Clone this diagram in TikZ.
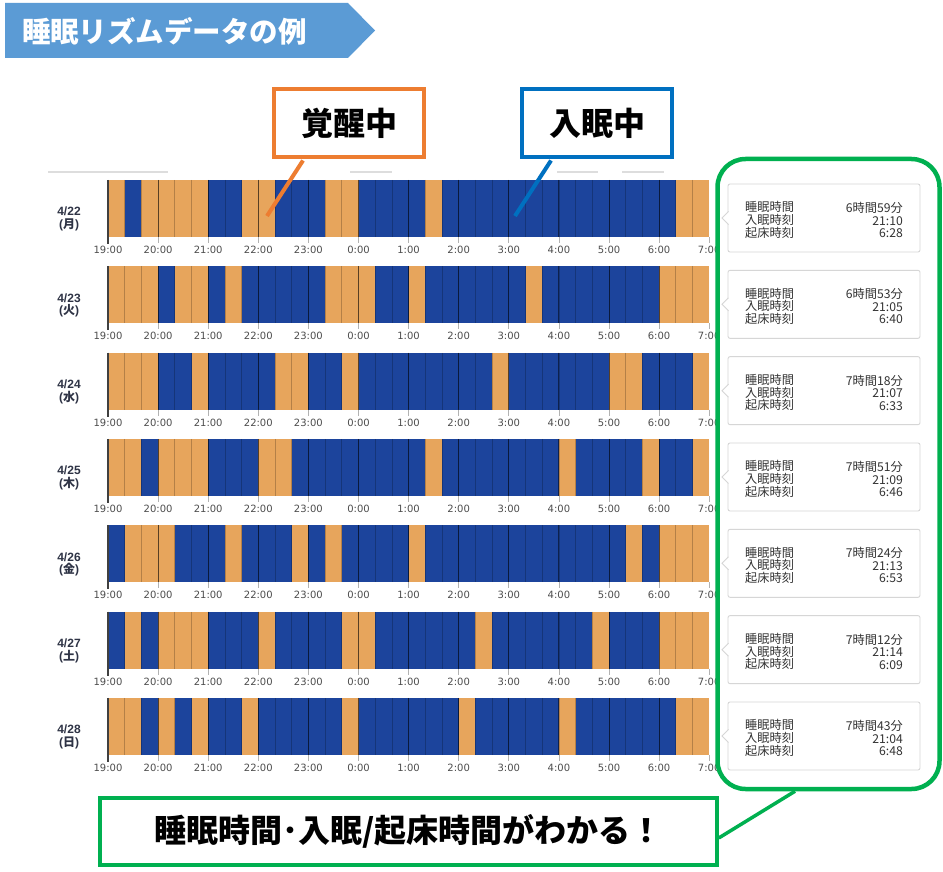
\documentclass[tikz,border=0pt]{standalone}
\usepackage{fontspec}
\setmainfont{Liberation Sans}
\newfontfamily\jp{Noto Sans CJK JP}
\newfontfamily\dv{DejaVu Sans}
\usetikzlibrary{calc}
\definecolor{slpO}{HTML}{E7A55C}
\definecolor{slpB}{HTML}{1C449C}
\definecolor{bannerblue}{HTML}{5B9BD5}
\definecolor{callO}{HTML}{ED7D31}
\definecolor{callB}{HTML}{0070C0}
\definecolor{grn}{HTML}{00B050}
\definecolor{tickgray}{HTML}{4D4D4D}
\definecolor{dategray}{HTML}{2E3345}
\definecolor{cardgray}{HTML}{D6D6D6}
\definecolor{cardtext}{HTML}{333333}
\definecolor{headgray}{HTML}{DDDDDD}
\newcommand\sleeprow[2]{%
  \foreach \c [count=\k from 0] in {#2} {
    \fill[fill=slp\c] ({108+16.7*\k},{180+86.33*#1}) rectangle ++(16.8,57);
  }}
\begin{document}
\begin{tikzpicture}[x=1pt,y=-1pt,
  slotline/.style={black, opacity=.22, line width=.8pt},
  hourline/.style={black, opacity=.5, line width=1pt},
  tickmark/.style={black!30, line width=.8pt},
  ticklab/.style={font=\dv\fontsize{10}{12}\selectfont, text=tickgray, inner sep=0pt},
  datelab/.style={font=\bfseries\fontsize{12}{12.5}\selectfont, text=dategray, align=center, inner sep=0pt},
  card/.style={draw=cardgray, line width=.9pt, rounded corners=2pt, fill=white, minimum width=192pt, minimum height=68pt, inner sep=0pt},
  cardtxt/.style={font=\jp\fontsize{12.2}{12.6}\selectfont, text=cardtext, inner sep=0pt},
  callbox/.style={line width=3.5pt, fill=white, minimum width=150pt, minimum height=68pt, inner sep=0pt, font=\jp\bfseries\fontsize{32}{36}\selectfont},
  callline/.style={line width=4pt},
  grnline/.style={draw=grn, line width=3.5pt}
]
\useasboundingbox (0,0) rectangle (943,872);
\fill[white] (0,0) rectangle (943,872);

% title banner
\fill[bannerblue] (5,3) -- (348,3) -- (375,30.5) -- (348,58) -- (5,58) -- cycle;
\node[text=white, inner sep=0pt, font=\jp\bfseries\fontsize{28.5}{32}\selectfont] (title) at (164.5,31) {睡眠リズムデータの例};

% faint header lines
\draw[headgray, line width=1.5pt] (48,172) -- (168,172) (350,172) -- (392,172) (557,172) -- (598,172) (622,172) -- (664,172);

% sleep bars
\sleeprow{0}{O,B,O,O,O,O,B,B,O,O,B,B,B,O,O,B,B,B,B,O,B,B,B,B,B,B,B,B,B,B,B,B,B,B,O,O}
\sleeprow{1}{O,O,O,B,O,O,B,O,B,B,B,B,B,O,O,O,B,B,O,B,B,B,B,B,B,O,B,B,B,B,B,B,B,O,O,O}
\sleeprow{2}{O,O,O,B,B,O,B,B,B,B,O,O,B,B,O,B,B,B,B,B,B,B,B,O,B,B,B,B,B,B,O,O,B,B,B,O}
\sleeprow{3}{O,O,B,O,O,O,B,B,B,O,O,B,B,B,B,B,B,B,B,O,B,B,B,B,B,B,B,O,B,B,B,B,O,B,B,O}
\sleeprow{4}{B,O,O,O,B,B,B,O,B,B,B,O,B,O,B,B,B,B,O,B,B,B,B,B,B,B,B,B,B,B,B,O,B,O,O,O}
\sleeprow{5}{B,O,B,O,O,O,B,B,B,O,B,B,B,B,O,O,B,B,B,B,B,B,O,B,B,B,B,B,B,O,B,B,B,O,O,O}
\sleeprow{6}{O,O,B,O,B,O,B,B,O,B,B,B,B,B,O,B,B,B,B,B,B,O,B,B,B,B,B,O,B,B,B,B,B,B,O,O}

% grid lines, ticks, labels, dates
\foreach \d/\w [count=\r from 0] in {22/月,23/火,24/水,25/木,26/金,27/土,28/日} {
  \pgfmathsetmacro\T{180+86.33*\r}
  \foreach \k in {1,...,35} {
    \draw[slotline] ({108+16.7*\k},\T) -- ++(0,57);
  }
  \foreach \h in {1,...,11} {
    \draw[hourline] ({108+50.1*\h},\T) -- ++(0,57);
    \draw[tickmark] ({108+50.1*\h},\T+57) -- ++(0,6);
  }
  \draw[tickmark] (709.2,\T+57) -- ++(0,6);
  \draw[black!75, line width=1.2pt] (108,\T) -- ++(0,64);
  \foreach \lab [count=\h from 0] in {19:00,20:00,21:00,22:00,23:00,0:00,1:00,2:00,3:00,4:00,5:00,6:00,7:00} {
    \node[ticklab] (t\r-\h) at ({108+50.1*\h},\T+70) {\lab};
  }
  \node[datelab] (date\r) at (69,\T+39) {4/\d\\({\jp \w})};
}

% info cards
\foreach \a/\b/\e [count=\r from 0] in {6時間59分/21:10/6:28,6時間53分/21:05/6:40,7時間18分/21:07/6:33,7時間51分/21:09/6:46,7時間24分/21:13/6:53,7時間12分/21:14/6:09,7時間43分/21:04/6:48} {
  \pgfmathsetmacro\C{184+86.33*\r}
  \node[card] (card\r) at (824,\C+34) {};
  \fill[white] (729,\C+27.5) -- (722,\C+34) -- (729,\C+40.5) -- cycle;
  \draw[cardgray, line width=.9pt] (728.5,\C+27.5) -- (722,\C+34) -- (728.5,\C+40.5);
  \node[cardtxt, anchor=west, align=left] (cl\r) at (745,\C+36) {睡眠時間\\入眠時刻\\起床時刻};
  \node[cardtxt, anchor=east, align=right] (cv\r) at (903,\C+36) {\a\\\b\\\e};
}

% callouts
\node[callbox, draw=callO] (wake) at (349,123) {覚醒中};
\coordinate (wakeTip) at (267,216);
\draw[callline, callO] ($(wake.south)+(-46,1.75)$) -- (wakeTip);
\node[callbox, draw=callB] (sleep) at (597,123) {入眠中};
\coordinate (sleepTip) at (515,216);
\draw[callline, callB] ($(sleep.south)+(-46,1.75)$) -- (sleepTip);

% green panel and summary
\node[draw=grn, line width=4.5pt, rounded corners=28pt, minimum width=222pt, minimum height=630pt, inner sep=0pt] (panel) at (828.5,474) {};
\node[grnline, minimum width=617pt, minimum height=67pt, inner sep=0pt, font=\jp\bfseries\fontsize{32}{36}\selectfont] (summary) at (408.5,831.5) {睡眠時間･入眠/起床時間がわかる！};
\draw[grnline] ($(summary.east)+(0,6.5)$) -- ($(panel.south)+(-33.5,0)$);
\end{tikzpicture}
\end{document}
